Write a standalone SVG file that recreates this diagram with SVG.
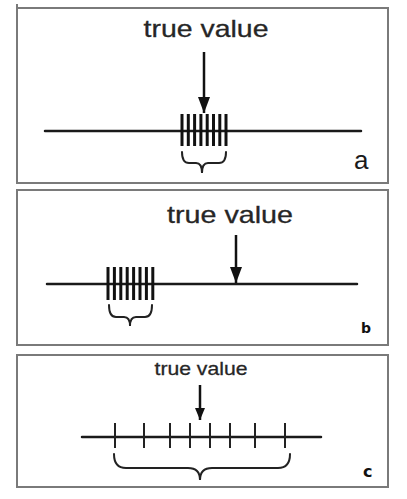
<svg xmlns="http://www.w3.org/2000/svg" width="407" height="499" viewBox="0 0 407 499">
<style>
.frame{fill:#fff;stroke:#7a7a7a;stroke-width:2}
.title{font-family:"Liberation Sans",Arial,sans-serif;fill:#262626;text-anchor:middle;stroke:#262626;stroke-width:0.3}
.axis{stroke:#1a1a1a;stroke-width:2.5;stroke-linecap:round}
.bar{stroke:#111;stroke-width:3}
.tick{stroke:#222;stroke-width:2}
.brace{fill:none;stroke:#222;stroke-width:2;stroke-linecap:round}
.lbl{font-family:"Liberation Sans",Arial,sans-serif;fill:#1a1a1a}
.lbl2{font-family:"DejaVu Sans",sans-serif;font-weight:bold;fill:#111}
.arr{stroke:#111;stroke-width:2.5}
</style>
<defs>
<marker id="head" markerUnits="userSpaceOnUse" viewBox="0 0 16 12" refX="16" refY="6" markerWidth="16" markerHeight="12" orient="auto">
<path d="M0,0 L16,6 L0,12 z" fill="#111"/>
</marker>
<marker id="headS" markerUnits="userSpaceOnUse" viewBox="0 0 12 10" refX="12" refY="5" markerWidth="12" markerHeight="10" orient="auto">
<path d="M0,0 L12,5 L0,10 z" fill="#111"/>
</marker>
</defs>
<rect width="407" height="499" fill="#fff"/>

<g id="panel-a">
<rect class="frame" x="17" y="8" width="371" height="175"/>
<line x1="17" y1="4" x2="17" y2="8" stroke="#7a7a7a" stroke-width="2"/>
<text class="title" x="206" y="37" font-size="24" textLength="125" lengthAdjust="spacingAndGlyphs">true value</text>
<line class="axis" x1="45" y1="131" x2="361" y2="131"/>
<g class="bar">
<line x1="182" y1="114" x2="182" y2="146"/><line x1="188.3" y1="114" x2="188.3" y2="146"/>
<line x1="194.6" y1="114" x2="194.6" y2="146"/><line x1="200.9" y1="114" x2="200.9" y2="146"/>
<line x1="207.2" y1="114" x2="207.2" y2="146"/><line x1="213.5" y1="114" x2="213.5" y2="146"/>
<line x1="219.8" y1="114" x2="219.8" y2="146"/><line x1="226" y1="114" x2="226" y2="146"/>
</g>
<path class="brace" d="M182,152 Q182,163 189,163 H196 Q202,163 202,173 Q202,163 208,163 H219 Q226,163 226,152"/>
<text class="lbl" x="354" y="169" font-size="26">a</text>
</g>

<g id="panel-b">
<rect class="frame" x="17" y="190" width="371" height="155"/>
<text class="title" x="230" y="223" font-size="24" textLength="126" lengthAdjust="spacingAndGlyphs">true value</text>
<line class="axis" x1="47" y1="284" x2="357" y2="284"/>
<g class="bar">
<line x1="108" y1="267" x2="108" y2="300"/><line x1="114.4" y1="267" x2="114.4" y2="300"/>
<line x1="120.8" y1="267" x2="120.8" y2="300"/><line x1="127.2" y1="267" x2="127.2" y2="300"/>
<line x1="133.6" y1="267" x2="133.6" y2="300"/><line x1="140" y1="267" x2="140" y2="300"/>
<line x1="146.4" y1="267" x2="146.4" y2="300"/><line x1="152.8" y1="267" x2="152.8" y2="300"/>
</g>
<path class="brace" d="M109,305 Q109,317 116,317 H124 Q130,317 130,326 Q130,317 136,317 H145 Q152,317 152,305"/>
<text class="lbl2" x="361" y="333" font-size="14">b</text>
</g>

<g id="panel-c">
<rect class="frame" x="17" y="355" width="371" height="132"/>
<text class="title" x="201" y="375" font-size="19" textLength="93" lengthAdjust="spacingAndGlyphs">true value</text>
<line class="axis" x1="82" y1="437" x2="321" y2="437" stroke-width="2"/>
<g class="tick">
<line x1="115" y1="423" x2="115" y2="448"/><line x1="144" y1="423" x2="144" y2="448"/>
<line x1="170" y1="423" x2="170" y2="448"/><line x1="190" y1="423" x2="190" y2="448"/>
<line x1="210" y1="423" x2="210" y2="448"/><line x1="230" y1="423" x2="230" y2="448"/>
<line x1="255" y1="423" x2="255" y2="448"/><line x1="285" y1="423" x2="285" y2="448"/>
</g>
<path class="brace" d="M114,454 Q114,468 126,468 H188 Q200,468 200,480 Q200,468 212,468 H278 Q290,468 290,454"/>
<text class="lbl2" x="363" y="477" font-size="16">c</text>
</g>

<g id="connectors">
<line class="arr" x1="204" y1="52" x2="204" y2="113" marker-end="url(#head)"/>
<line class="arr" x1="236" y1="235" x2="236" y2="283" marker-end="url(#head)"/>
<line class="arr" x1="200" y1="385" x2="200" y2="420" stroke-width="2" marker-end="url(#headS)"/>
</g>
</svg>
